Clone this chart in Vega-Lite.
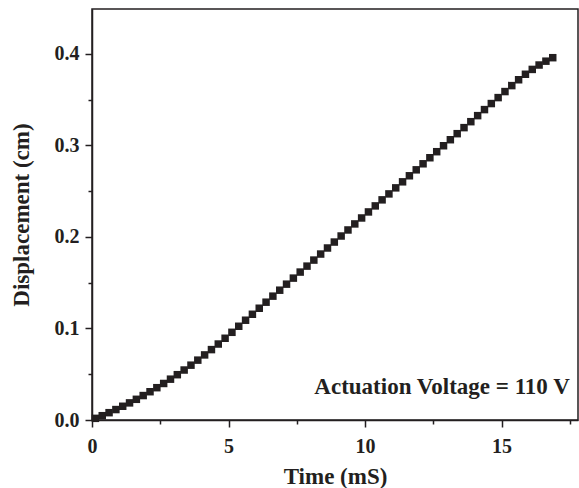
{
  "$schema": "https://vega.github.io/schema/vega-lite/v6.json",
  "width": 486,
  "height": 411,
  "autosize": "none",
  "padding": {"left": 92, "top": 9, "right": 1, "bottom": 68},
  "background": "white",
  "config": {
    "view": {"stroke": "#231f20", "strokeWidth": 1.5},
    "font": "Liberation Serif",
    "axis": {
      "domainColor": "#231f20", "domainWidth": 1.5,
      "tickColor": "#231f20", "tickWidth": 1.5,
      "labelFont": "Liberation Serif", "labelFontWeight": "bold", "labelFontSize": 20, "labelColor": "#231f20",
      "titleFont": "Liberation Serif", "titleFontWeight": "bold", "titleFontSize": 23, "titleColor": "#231f20",
      "grid": false
    }
  },
  "layer": [
    {
      "data": {"values": [
        {"t": 0.125, "d": 0.0018}, {"t": 0.375, "d": 0.0047}, {"t": 0.625, "d": 0.0080}, {"t": 0.875, "d": 0.0114},
        {"t": 1.125, "d": 0.0150}, {"t": 1.375, "d": 0.0187}, {"t": 1.625, "d": 0.0226}, {"t": 1.875, "d": 0.0267},
        {"t": 2.125, "d": 0.0309}, {"t": 2.375, "d": 0.0353}, {"t": 2.625, "d": 0.0399}, {"t": 2.875, "d": 0.0446},
        {"t": 3.125, "d": 0.0495}, {"t": 3.375, "d": 0.0546}, {"t": 3.625, "d": 0.0599}, {"t": 3.875, "d": 0.0654},
        {"t": 4.125, "d": 0.0711}, {"t": 4.375, "d": 0.0769}, {"t": 4.625, "d": 0.0830}, {"t": 4.875, "d": 0.0893},
        {"t": 5.125, "d": 0.0958}, {"t": 5.375, "d": 0.1024}, {"t": 5.625, "d": 0.1090}, {"t": 5.875, "d": 0.1155},
        {"t": 6.125, "d": 0.1221}, {"t": 6.375, "d": 0.1287}, {"t": 6.625, "d": 0.1353}, {"t": 6.875, "d": 0.1418},
        {"t": 7.125, "d": 0.1484}, {"t": 7.375, "d": 0.1550}, {"t": 7.625, "d": 0.1616}, {"t": 7.875, "d": 0.1681},
        {"t": 8.125, "d": 0.1747}, {"t": 8.375, "d": 0.1813}, {"t": 8.625, "d": 0.1879}, {"t": 8.875, "d": 0.1944},
        {"t": 9.125, "d": 0.2010}, {"t": 9.375, "d": 0.2076}, {"t": 9.625, "d": 0.2142}, {"t": 9.875, "d": 0.2207},
        {"t": 10.125, "d": 0.2273}, {"t": 10.375, "d": 0.2339}, {"t": 10.625, "d": 0.2405}, {"t": 10.875, "d": 0.2470},
        {"t": 11.125, "d": 0.2536}, {"t": 11.375, "d": 0.2602}, {"t": 11.625, "d": 0.2668}, {"t": 11.875, "d": 0.2733},
        {"t": 12.125, "d": 0.2799}, {"t": 12.375, "d": 0.2865}, {"t": 12.625, "d": 0.2931}, {"t": 12.875, "d": 0.2996},
        {"t": 13.125, "d": 0.3062}, {"t": 13.375, "d": 0.3128}, {"t": 13.625, "d": 0.3194}, {"t": 13.875, "d": 0.3259},
        {"t": 14.125, "d": 0.3325}, {"t": 14.375, "d": 0.3391}, {"t": 14.625, "d": 0.3457}, {"t": 14.875, "d": 0.3522},
        {"t": 15.125, "d": 0.3588}, {"t": 15.375, "d": 0.3653}, {"t": 15.625, "d": 0.3717}, {"t": 15.875, "d": 0.3777},
        {"t": 16.125, "d": 0.3830}, {"t": 16.375, "d": 0.3878}, {"t": 16.625, "d": 0.3920}, {"t": 16.875, "d": 0.3958}
      ]},
      "mark": {"type": "point", "shape": "square", "filled": true, "size": 56, "color": "#231f20", "opacity": 1},
      "encoding": {
        "x": {"field": "t", "type": "quantitative",
              "scale": {"domain": [0, 17.8], "nice": false, "zero": false},
              "axis": {"orient": "bottom", "title": "Time (mS)", "values": [0, 5, 10, 15], "format": "d",
                       "tickSize": 7, "labelPadding": 9, "titlePadding": 9, "labelFlush": false}},
        "y": {"field": "d", "type": "quantitative",
              "scale": {"domain": [0, 0.449], "nice": false, "zero": false},
              "axis": {"orient": "left", "title": "Displacement (cm)", "values": [0, 0.1, 0.2, 0.3, 0.4], "format": ".1f",
                       "tickSize": 7, "labelPadding": 6, "titlePadding": 21, "labelFlush": false}}
      }
    },
    {
      "data": {"values": [{"t": 17.5, "d": 0.028, "label": "Actuation Voltage = 110 V"}]},
      "mark": {"type": "text", "align": "right", "baseline": "alphabetic", "font": "Liberation Serif", "fontWeight": "bold", "fontSize": 23, "color": "#231f20"},
      "encoding": {
        "x": {"field": "t", "type": "quantitative",
              "axis": {"orient": "bottom", "title": null, "values": [2.5, 7.5, 12.5, 17.5], "labels": false, "tickSize": 4, "domain": false}},
        "y": {"field": "d", "type": "quantitative",
              "axis": {"orient": "left", "title": null, "values": [0.05, 0.15, 0.25, 0.35], "labels": false, "tickSize": 4, "domain": false}},
        "text": {"field": "label"}
      }
    }
  ],
  "resolve": {"axis": {"x": "independent", "y": "independent"}}
}
